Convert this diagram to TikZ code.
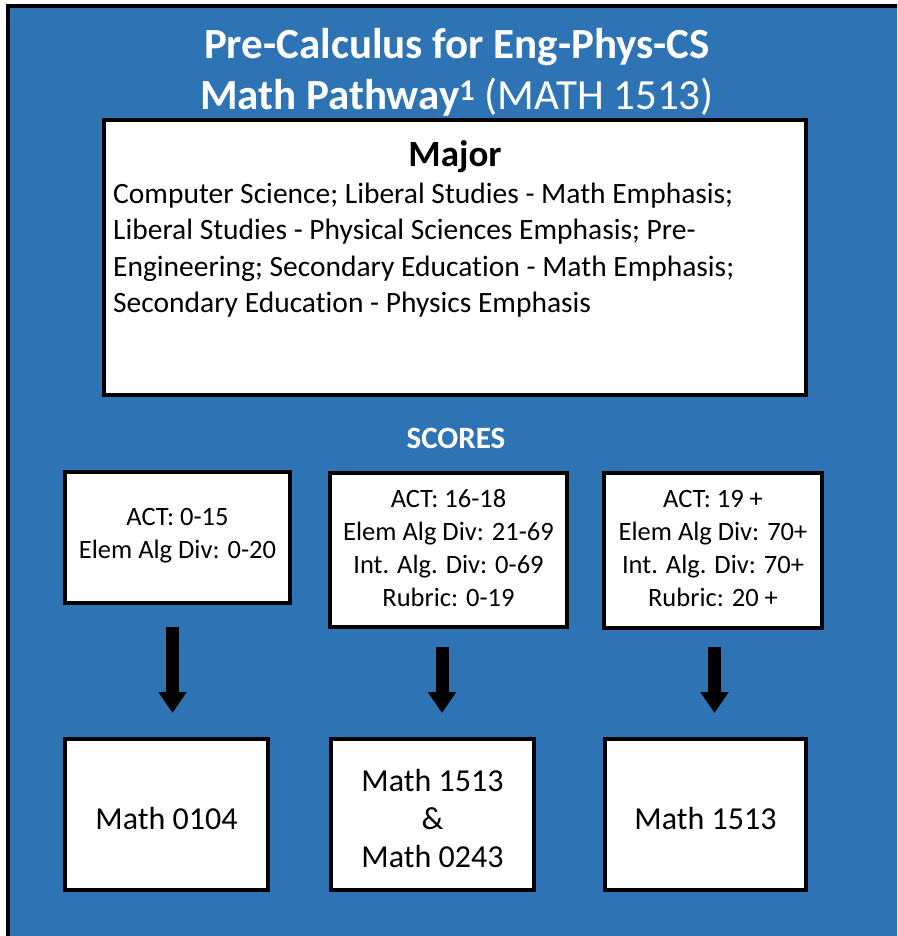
\documentclass[tikz,border=0pt]{standalone}
\usepackage{fontspec}
\setmainfont{Carlito}[Ligatures=NoCommon]
\usetikzlibrary{arrows.meta}
\definecolor{bgblue}{HTML}{2E74B5}
\tikzset{
  whitebox/.style={draw=black, fill=white, line width=4pt, inner sep=0pt, outer sep=0pt},
  scoretext/.style={font=\fontsize{26.5}{33}\selectfont, align=center, text=black},
  coursetext/.style={font=\fontsize{32}{38}\selectfont, align=center, text=black},
  bigarrow/.style={line width=13pt, -{Triangle[length=21pt,width=27pt]}, black}
}
\begin{document}
\begin{tikzpicture}[x=1pt,y=-1pt]
\useasboundingbox (0,0) rectangle (897,936);
\clip (0,0) rectangle (897,936);
\fill[white] (0,0) rectangle (897,936);
\draw[line width=4pt, fill=bgblue] (8,6) rectangle (910,950);

% title
\node[text=white, font=\fontsize{43}{51}\selectfont, align=center] (title) at (457,72)
  {\textbf{Pre-Calculus for Eng-Phys-CS}\\ \textbf{Math Pathway\textsuperscript{1}} (MATH 1513)};

% major box
\node[whitebox, minimum width=702pt, minimum height=275pt] (major) at (455,257.5) {};
\node[font=\bfseries\fontsize{37}{40}\selectfont, anchor=base] (majorhead) at (455,167) {Major};
\node[font=\fontsize{29.5}{36.3}\selectfont, align=left, anchor=north west, inner sep=0pt] (majortext) at (113,183)
  {Computer Science; Liberal Studies - Math Emphasis;\\
   Liberal Studies - Physical Sciences Emphasis; Pre-\\
   Engineering; Secondary Education - Math Emphasis;\\
   Secondary Education - Physics Emphasis};

% scores label
\node[text=white, font=\bfseries\fontsize{31}{34}\selectfont] (scores) at (456,438) {SCORES};

% score boxes
\node[whitebox, minimum width=225pt, minimum height=131pt] (s1) at (177.5,537.5) {};
\node[scoretext] (s1t) at ([yshift=2pt]s1.center) {ACT: 0-15\\Elem Alg Div: 0-20};
\node[whitebox, minimum width=237pt, minimum height=154pt] (s2) at (448.5,550) {};
\node[scoretext] (s2t) at ([yshift=2pt]s2.center) {ACT: 16-18\\Elem Alg Div: 21-69\\Int. Alg. Div: 0-69\\Rubric: 0-19};
\node[whitebox, minimum width=218pt, minimum height=155pt] (s3) at (713,550.5) {};
\node[scoretext] (s3t) at ([yshift=2pt]s3.center) {ACT: 19 +\\Elem Alg Div: 70+\\Int. Alg. Div: 70+\\Rubric: 20 +};

% course boxes
\node[whitebox, minimum width=203pt, minimum height=151pt] (b1) at (166.5,814.5) {};
\node[coursetext] (b1t) at ([yshift=-4pt]b1.center) {Math 0104};
\node[whitebox, minimum width=203pt, minimum height=151pt] (b2) at (432.5,814.5) {};
\node[coursetext] (b2t) at ([yshift=-4pt]b2.center) {Math 1513\\\&\\Math 0243};
\node[whitebox, minimum width=201pt, minimum height=151pt] (b3) at (705.5,814.5) {};
\node[coursetext] (b3t) at ([yshift=-4pt]b3.center) {Math 1513};

% arrows
\coordinate (a1s) at (172.5,627);
\coordinate (a1e) at (172.5,713);
\coordinate (a2s) at (442,647);
\coordinate (a2e) at (442,713);
\coordinate (a3s) at (714.5,647);
\coordinate (a3e) at (714.5,713);
\draw[bigarrow] (a1s) -- (a1e);
\draw[bigarrow] (a2s) -- (a2e);
\draw[bigarrow] (a3s) -- (a3e);
\end{tikzpicture}
\end{document}
